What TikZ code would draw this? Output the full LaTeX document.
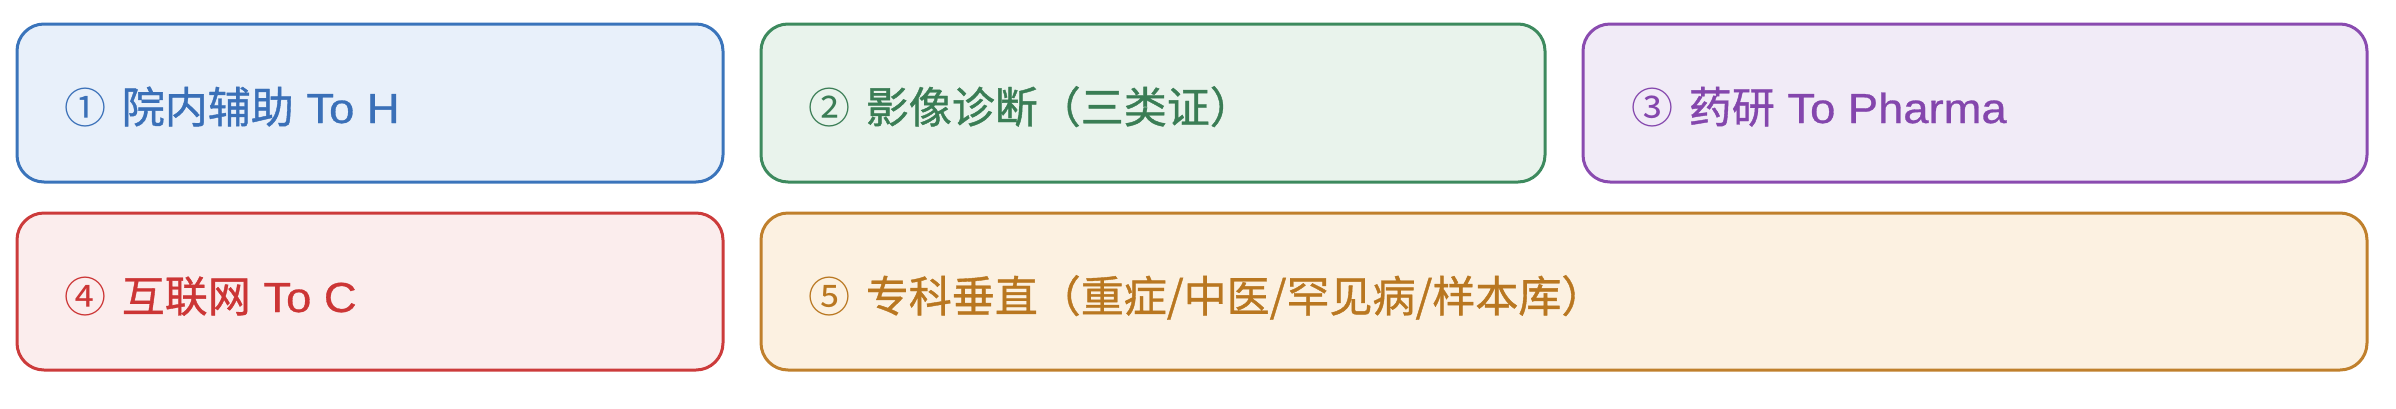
\documentclass[tikz,border=0pt]{standalone}
\usepackage{fontspec}
\setmainfont{Liberation Sans}[FakeStretch=1.08,FakeBold=0.7]
\newfontfamily\cjk{Noto Sans CJK SC}[FakeBold=0.9]
\newfontfamily\cjknum{Noto Sans CJK SC}
\definecolor{bluS}{HTML}{3A74BB}\definecolor{bluF}{HTML}{E8F0FA}\definecolor{bluT}{HTML}{3A70B8}
\definecolor{grnS}{HTML}{3D8A5E}\definecolor{grnF}{HTML}{E9F3EC}\definecolor{grnT}{HTML}{3A7D55}
\definecolor{purS}{HTML}{8A4BB0}\definecolor{purF}{HTML}{F1EBF7}\definecolor{purT}{HTML}{8446AD}
\definecolor{redS}{HTML}{CC3B3B}\definecolor{redF}{HTML}{FBEDED}\definecolor{redT}{HTML}{CC3535}
\definecolor{orgS}{HTML}{C0802C}\definecolor{orgF}{HTML}{FCF1E1}\definecolor{orgT}{HTML}{B97720}
\newcommand{\cn}[1]{{\cjk\fontsize{43pt}{50pt}\selectfont #1}}
\newcommand{\num}[1]{{\cjknum\fontsize{42pt}{50pt}\selectfont #1}\hspace{3pt}}
\tikzset{
  card/.style={draw, rounded corners=27pt, line width=3pt, inner sep=0pt, outer sep=0pt, anchor=north west},
  lbl/.style={anchor=base west, inner sep=0pt, font=\fontsize{42pt}{50pt}\selectfont}
}
\begin{document}
\begin{tikzpicture}[x=1pt,y=-1pt]
\useasboundingbox (0,0) rectangle (2396,408);
\node[card, draw=bluS, fill=bluF, minimum width=706pt, minimum height=158pt] (b1) at (17,24) {};
\node[card, draw=grnS, fill=grnF, minimum width=784pt, minimum height=158pt] (b2) at (761,24) {};
\node[card, draw=purS, fill=purF, minimum width=784pt, minimum height=158pt] (b3) at (1583,24) {};
\node[card, draw=redS, fill=redF, minimum width=706pt, minimum height=157pt] (b4) at (17,213) {};
\node[card, draw=orgS, fill=orgF, minimum width=1606pt, minimum height=157pt] (b5) at (761,213) {};
\node[lbl, text=bluT] (t1) at ([xshift=47pt,yshift=-20pt]b1.west) {\num{①} \cn{院内辅助} To H};
\node[lbl, text=grnT] (t2) at ([xshift=47pt,yshift=-20pt]b2.west) {\num{②} \cn{影像诊断（三类证）}};
\node[lbl, text=purT] (t3) at ([xshift=48pt,yshift=-20pt]b3.west) {\num{③} \cn{药研} To Pharma};
\node[lbl, text=redT] (t4) at ([xshift=47pt,yshift=-20.5pt]b4.west) {\num{④} \cn{互联网} To C};
\node[lbl, text=orgT] (t5) at ([xshift=47pt,yshift=-20.5pt]b5.west) {\num{⑤} \cn{专科垂直（重症/中医/罕见病/样本库）}};
\end{tikzpicture}
\end{document}
